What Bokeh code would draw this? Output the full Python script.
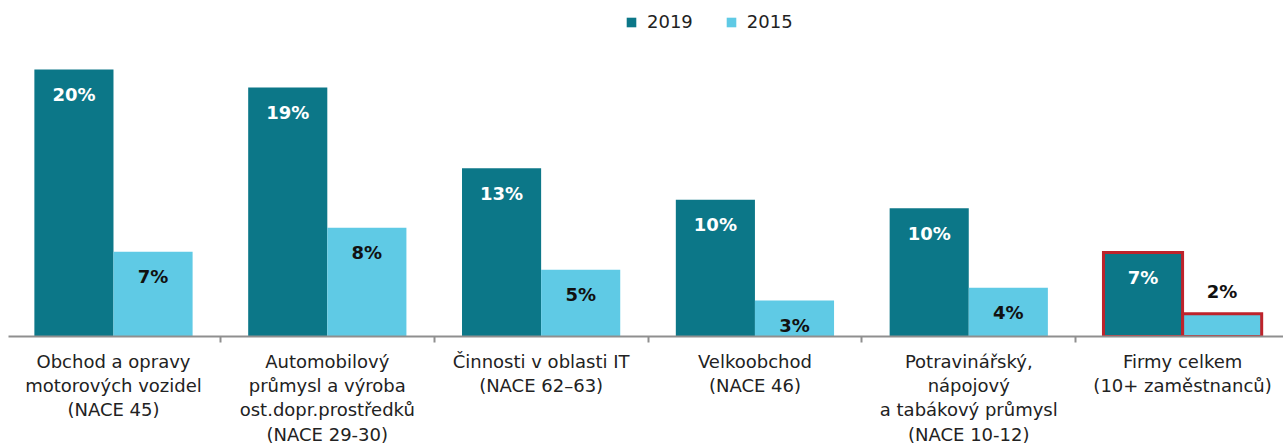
from bokeh.plotting import figure
from bokeh.models import ColumnDataSource, FixedTicker, Legend, LegendItem, LabelSet, Range1d
from bokeh.core.properties import value
from bokeh.embed import file_html
from bokeh.resources import INLINE

categories = [
    "Obchod a opravy\nmotorových vozidel\n(NACE 45)",
    "Automobilový\nprůmysl a výroba\nost.dopr.prostředků\n(NACE 29-30)",
    "Činnosti v oblasti IT\n(NACE 62–63)",
    "Velkoobchod\n(NACE 46)",
    "Potravinářský,\nnápojový\na tabákový průmysl\n(NACE 10-12)",
    "Firmy celkem\n(10+ zaměstnanců)",
]
v2019 = [20.0, 18.65, 12.6, 10.25, 9.6, 6.3]
v2015 = [6.35, 8.15, 5.0, 2.7, 3.65, 1.7]
lab2019 = ["20%", "19%", "13%", "10%", "10%", "7%"]
lab2015 = ["7%", "8%", "5%", "3%", "4%", "2%"]
highlight = [False, False, False, False, False, True]

DARK = "#0C7788"
LIGHT = "#5FCAE5"
RED = "#BE232B"
FONT = "DejaVu Sans"
BW = 0.37

idx = list(range(len(categories)))
x19 = [i - BW / 2 for i in idx]
x15 = [i + BW / 2 for i in idx]

s19 = ColumnDataSource(dict(x=x19, top=v2019, text=lab2019,
                            off=[-25 if v > 2.5 else 22 for v in v2019]))
s15 = ColumnDataSource(dict(x=x15, top=v2015, text=lab2015,
                            off=[-25 if v > 2.5 else 22 for v in v2015]))
hx = [x19[i] for i in idx if highlight[i]] + [x15[i] for i in idx if highlight[i]]
htop = [v2019[i] for i in idx if highlight[i]] + [v2015[i] for i in idx if highlight[i]]
sh = ColumnDataSource(dict(x=hx, top=htop))

p = figure(frame_width=1275, frame_height=328, output_backend="svg", toolbar_location=None,
           x_range=Range1d(-0.491, 5.472), y_range=Range1d(0, 24.57),
           min_border_left=8, min_border_right=0, min_border_top=8, min_border_bottom=0)
p.outline_line_color = None
p.xgrid.visible = False
p.ygrid.visible = False
p.yaxis.visible = False

r19 = p.vbar(x="x", top="top", width=BW, bottom=0, source=s19, fill_color=DARK, line_color=None)
r15 = p.vbar(x="x", top="top", width=BW, bottom=0, source=s15, fill_color=LIGHT, line_color=None)
p.vbar(x="x", top="top", width=BW, bottom=0, source=sh, fill_color=None, line_color=RED,
       line_width=3, line_join="miter")

p.add_layout(LabelSet(x="x", y="top", text="text", y_offset="off", source=s19,
                      text_align="center", text_baseline="middle", text_color="white",
                      text_font=value(FONT), text_font_style="bold", text_font_size="18px"))
p.add_layout(LabelSet(x="x", y="top", text="text", y_offset="off", source=s15,
                      text_align="center", text_baseline="middle", text_color="#111111",
                      text_font=value(FONT), text_font_style="bold", text_font_size="18px"))

ax = p.xaxis[0]
ax.ticker = FixedTicker(ticks=idx, minor_ticks=[i - 0.5 for i in idx] + [idx[-1] + 0.5])
ax.major_label_overrides = {i: c for i, c in zip(idx, categories)}
ax.major_tick_line_color = None
ax.major_tick_out = 6
ax.major_tick_in = 0
ax.minor_tick_out = 6
ax.minor_tick_in = 0
ax.minor_tick_line_color = "#8f8f8f"
ax.minor_tick_line_width = 2
ax.axis_line_color = "#8f8f8f"
ax.axis_line_width = 2
ax.major_label_standoff = 8
ax.major_label_text_font = FONT
ax.major_label_text_font_size = "18px"
ax.major_label_text_color = "#222222"
ax.major_label_text_line_height = 1.16

legend = Legend(items=[LegendItem(label="2019", renderers=[r19]),
                       LegendItem(label="2015", renderers=[r15])],
                orientation="horizontal", location=(617, 304),
                glyph_width=12, glyph_height=12, label_height=20, label_standoff=10,
                spacing=32, padding=0, margin=0, border_line_color=None,
                background_fill_alpha=0, label_text_font=FONT, label_text_font_size="18px",
                label_text_color="#222222")
p.add_layout(legend)

open("out.html", "w").write(file_html(p, INLINE))
